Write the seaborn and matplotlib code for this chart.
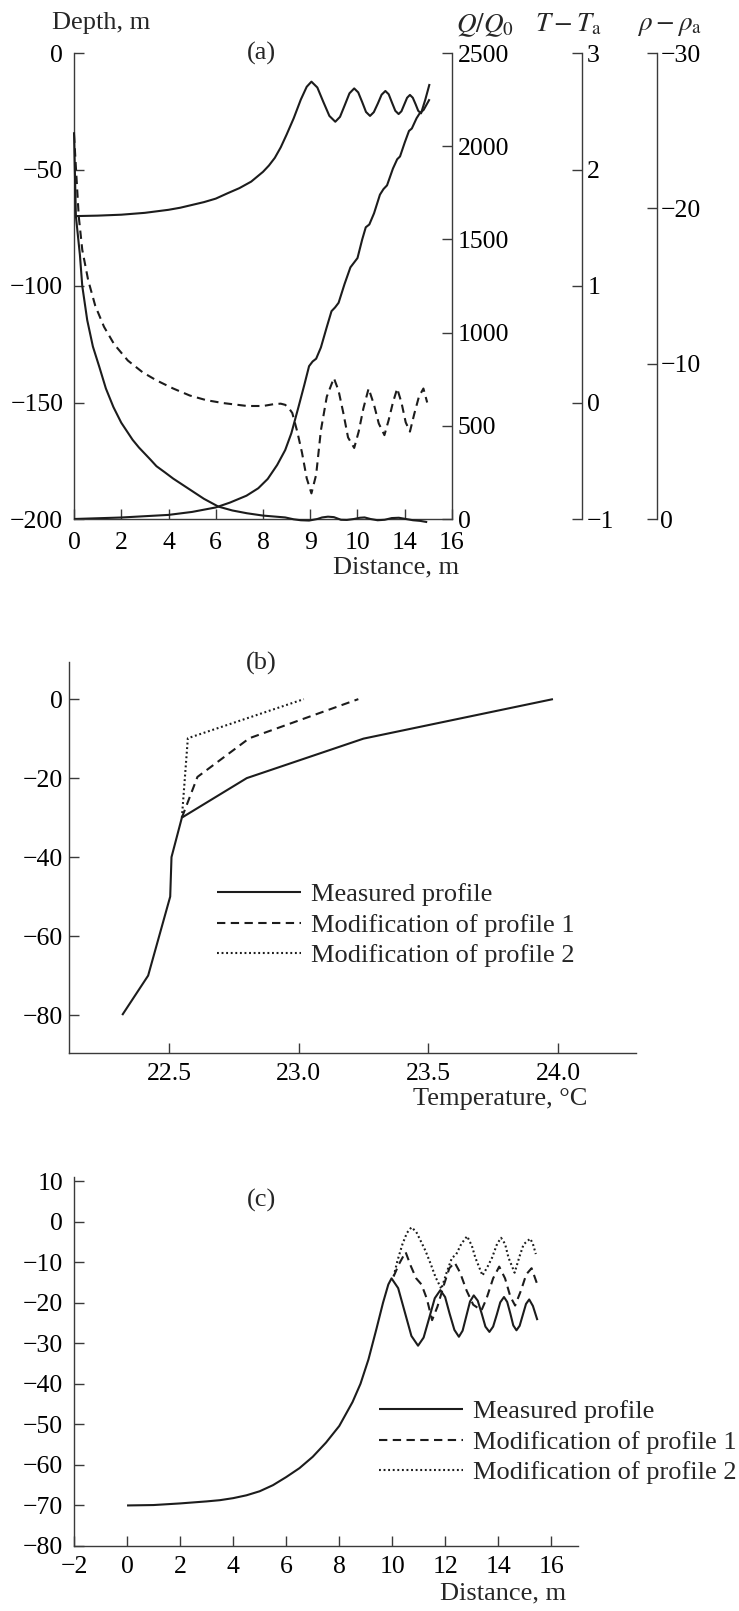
import numpy as np
import pandas as pd
import matplotlib
matplotlib.use("Agg")
import matplotlib.pyplot as plt
import seaborn as sns

# ---------------- data: panel (a) ----------------
a_depth_x = [0.05, 1.0, 2.0, 3.0, 4.0, 4.5, 5.0, 5.5, 6.0, 6.5, 7.0, 7.5, 8.0, 8.25, 8.5, 8.75, 9.0,
             9.3, 9.6, 9.85, 10.05, 10.30, 10.55, 10.81, 11.06, 11.26, 11.46, 11.66, 11.86, 12.03,
             12.20, 12.36, 12.53, 12.69, 12.86, 13.02, 13.18, 13.32, 13.46, 13.60, 13.74, 13.86, 13.98,
             14.10, 14.22, 14.34, 14.46, 14.57, 14.69, 14.87, 15.05]
a_depth_y = [-70.0, -69.8, -69.4, -68.6, -67.3, -66.4, -65.2, -64.0, -62.5, -60.2, -58.0, -55.2, -51.0,
             -48.3, -45.0, -40.5, -35.0, -28.0, -20.0, -14.5, -12.3, -14.8, -20.9, -27.0, -29.5, -27.4,
             -22.4, -17.3, -15.2, -16.9, -21.1, -25.3, -27.0, -25.4, -21.7, -17.9, -16.3, -17.7, -21.3,
             -24.8, -26.2, -25.0, -22.1, -19.2, -18.0, -19.2, -22.0, -24.8, -25.9, -20.0, -13.3]

a_q_x = [0.0, 2.0, 4.0, 5.0, 6.0, 6.6, 7.3, 7.8, 8.2, 8.6, 8.94, 9.2, 9.5, 9.75, 9.95, 10.1, 10.25,
         10.45, 10.7, 10.9, 11.05, 11.2, 11.45, 11.7, 11.85, 12.0, 12.2, 12.35, 12.5, 12.7, 12.95,
         13.1, 13.25, 13.5, 13.68, 13.8, 14.0, 14.18, 14.3, 14.5, 14.63, 14.8, 15.05]
a_q_val = [0, 8, 22, 38, 62, 88, 125, 165, 215, 290, 370, 460, 600, 720, 820, 845, 860, 920, 1030,
           1115, 1135, 1160, 1260, 1350, 1375, 1400, 1500, 1565, 1580, 1640, 1740, 1770, 1790, 1880,
           1930, 1945, 2020, 2082, 2095, 2150, 2176, 2195, 2252]

a_t_x = [0.0, 0.2, 0.35, 0.6, 0.9, 1.27, 1.7, 2.28, 2.9, 3.49, 4.2, 4.9, 5.6, 6.32, 7.33, 8.0, 8.43,
         8.75, 8.94, 9.1, 9.24, 9.45, 9.65, 9.85, 10.05, 10.25, 10.45, 10.7, 11.0, 11.2, 11.4, 11.6,
         11.86, 12.05, 12.25, 12.47, 12.7, 12.9, 13.14, 13.32, 13.5, 13.68, 13.86, 14.04, 14.22, 14.4,
         14.6, 14.79, 14.95]
a_t_val = [2.3, 1.6, 1.31, 1.05, 0.83, 0.65, 0.5, 0.36, 0.26, 0.19, 0.12, 0.06, 0.02, -0.005, -0.03,
           -0.03, -0.015, -0.01, -0.02, -0.05, -0.09, -0.25, -0.43, -0.65, -0.78, -0.62, -0.24, 0.05,
           0.21, 0.1, -0.09, -0.3, -0.39, -0.25, -0.05, 0.12, -0.02, -0.18, -0.28, -0.15, 0.0, 0.12,
           0.0, -0.17, -0.25, -0.1, 0.05, 0.12, 0.0]

a_rho_x = [0.0, 0.08, 0.25, 0.35, 0.56, 0.8, 1.07, 1.35, 1.67, 2.0, 2.48, 2.75, 3.0, 3.25, 3.49, 3.85,
           4.2, 4.55, 4.9, 5.5, 6.11, 6.7, 7.32, 8.0, 8.94, 9.3, 9.6, 9.95, 10.3, 10.5, 10.75, 11.0,
           11.3, 11.55, 11.85, 12.1, 12.3, 12.55, 12.85, 13.15, 13.45, 13.75, 14.05, 14.35, 14.65,
           14.95]
a_rho_val = [-24.9, -19.5, -17.0, -15.0, -12.8, -11.1, -9.8, -8.4, -7.2, -6.2, -5.1, -4.6, -4.2, -3.8,
             -3.4, -3.0, -2.6, -2.25, -1.9, -1.3, -0.8, -0.55, -0.37, -0.22, -0.1, 0.02, 0.08, 0.1,
             0.0, -0.1, -0.15, -0.12, 0.05, 0.06, 0.0, -0.08, -0.1, 0.0, 0.08, 0.05, -0.06, -0.08, 0.0,
             0.08, 0.12, 0.2]

a_xticks = [0, 2, 4, 6, 8, 10, 12, 14, 16]
a_xticklabels = ["0", "2", "4", "6", "8", "9", "10", "14", "16"]

# ---------------- data: panel (b) ----------------
b_meas_t = [22.32, 22.42, 22.505, 22.51, 22.55, 22.80, 23.25, 23.98]
b_meas_z = [-80, -70, -50, -40, -30, -20, -10, 0]
b_mod1_t = [22.55, 22.61, 22.81, 23.23]
b_mod1_z = [-30, -19.7, -9.9, 0]
b_mod2_t = [22.55, 22.573, 23.02]
b_mod2_z = [-30, -9.9, 0]

# ---------------- data: panel (c) ----------------
c_meas_x = [0.0, 1.0, 2.0, 3.0, 3.5, 4.0, 4.5, 5.0, 5.5, 6.0, 6.5, 7.0, 7.5, 8.0, 8.5, 8.8, 9.1, 9.4,
            9.65, 9.85, 9.97, 10.22, 10.47, 10.72, 10.97, 11.18, 11.39, 11.6, 11.81, 11.99, 12.16,
            12.34, 12.51, 12.65, 12.79, 12.93, 13.07, 13.22, 13.37, 13.51, 13.66, 13.8, 13.94, 14.07,
            14.21, 14.33, 14.45, 14.56, 14.68, 14.8, 14.92, 15.04, 15.16, 15.3, 15.47]
c_meas_y = [-70.0, -69.9, -69.5, -69.0, -68.7, -68.2, -67.5, -66.5, -65.0, -63.0, -60.8, -58.0, -54.5,
            -50.4, -44.5, -40.0, -34.0, -26.5, -20.0, -15.5, -14.0, -16.4, -22.3, -28.2, -30.6, -28.6,
            -23.8, -18.9, -16.9, -18.6, -22.7, -26.7, -28.4, -26.9, -23.3, -19.7, -18.2, -19.5, -22.7,
            -25.9, -27.2, -25.9, -22.9, -19.9, -18.6, -19.8, -22.7, -25.6, -26.8, -25.7, -23.0, -20.3,
            -19.2, -20.8, -24.3]
c_mod1_x = [10.05, 10.25, 10.5, 10.7, 10.9, 11.1, 11.3, 11.5, 11.7, 11.95, 12.15, 12.35, 12.55, 12.8,
            13.05, 13.36, 13.55, 13.8, 14.03, 14.25, 14.45, 14.63, 14.85, 15.05, 15.25, 15.45]
c_mod1_y = [-13.5, -10.5, -7.5, -11.0, -14.0, -15.5, -19.0, -24.3, -21.0, -15.5, -11.5, -10.1, -12.5,
            -17.0, -20.5, -21.9, -19.0, -14.0, -11.1, -14.0, -18.5, -20.7, -17.0, -13.0, -11.5, -15.2]
c_mod2_x = [10.05, 10.2, 10.38, 10.55, 10.72, 10.9, 11.05, 11.25, 11.45, 11.63, 11.85, 12.05, 12.25,
            12.4, 12.6, 12.82, 13.0, 13.13, 13.4, 13.6, 13.76, 13.95, 14.1, 14.25, 14.38, 14.61, 14.8,
            14.95, 15.2, 15.3, 15.41]
c_mod2_y = [-13.5, -9.5, -5.6, -2.8, -1.4, -2.5, -4.5, -7.2, -10.5, -13.7, -16.6, -12.5, -8.9, -8.2,
            -5.5, -3.6, -6.0, -8.9, -13.3, -11.0, -8.9, -5.5, -4.0, -5.5, -8.9, -12.6, -8.5, -5.6, -4.2,
            -5.5, -8.0]

legend_labels = ["Measured profile", "Modification of profile 1", "Modification of profile 2"]

# ---------------- style ----------------
sns.set_style("ticks")
plt.rcParams["font.family"] = ["Liberation Serif", "DejaVu Serif"]
plt.rcParams["mathtext.fontset"] = "stix"
plt.rcParams["axes.unicode_minus"] = True

FS_TICK = 18.5
FS = 19
LC = "#1c1c1c"
SC = "#3a3a3a"
LW = 1.5
DASH = (0, (4.0, 2.6))
DOT = (0, (0.9, 1.3))

W, H = 739, 1611
fig = plt.figure(figsize=(W / 100, H / 100), dpi=100)


def rect(left, top, right, bottom):
    return [left / W, 1 - bottom / H, (right - left) / W, (bottom - top) / H]


def style_axis(ax, pad_y=7.7, pad_x=7.2):
    ax.tick_params(axis="both", direction="in", length=7, width=1.0, colors=SC,
                   labelcolor="black", labelsize=FS_TICK)
    ax.tick_params(axis="y", pad=pad_y)
    ax.tick_params(axis="x", pad=pad_x)
    for s in ax.spines.values():
        s.set_color(SC)
        s.set_linewidth(1.0)


def line(ax, x, y, ls="-", label=None, clip=True):
    df = pd.DataFrame({"x": x, "y": y})
    n0 = len(ax.lines)
    sns.lineplot(data=df, x="x", y="y", ax=ax, sort=False, estimator=None, color=LC,
                 linewidth=LW, linestyle=ls, label=label, legend=False)
    for ln in ax.lines[n0:]:
        ln.set_clip_on(clip)
        ln.set_solid_capstyle("butt")
        ln.set_solid_joinstyle("round")


def legend(ax, anchor):
    ax.legend(loc="center left", bbox_to_anchor=anchor, frameon=False, fontsize=FS,
              handlelength=3.2, handletextpad=0.36, labelspacing=0.27,
              borderpad=0, borderaxespad=0)


# ---------------- panel (a) ----------------
axA = fig.add_axes(rect(74, 53, 452, 519))
axQ = axA.twinx()
axT = axA.twinx()
axR = axA.twinx()

line(axA, a_depth_x, a_depth_y)
line(axQ, a_q_x, a_q_val)
line(axT, a_t_x, a_t_val, ls=DASH)
line(axR, a_rho_x, a_rho_val, clip=False)

axA.set_xlim(0, 16)
axA.set_ylim(-200, 0)
axA.set_xticks(a_xticks)
axA.set_xticklabels(a_xticklabels)
axA.set_yticks([0, -50, -100, -150, -200])
axQ.set_ylim(0, 2500)
axQ.set_yticks([0, 500, 1000, 1500, 2000, 2500])
axT.set_ylim(-1, 3)
axT.set_yticks([-1, 0, 1, 2, 3])
axR.set_ylim(0, -30)
axR.set_yticks([0, -10, -20, -30])

for ax in (axA, axQ, axT, axR):
    style_axis(ax, pad_x=9.2)
    ax.set_xlabel("")
    ax.set_ylabel("")
    ax.patch.set_visible(False)
axA.spines["top"].set_visible(False)
axA.spines["right"].set_visible(False)
for ax in (axQ, axT, axR):
    for s in ("top", "bottom", "left"):
        ax.spines[s].set_visible(False)
axQ.tick_params(axis="y", pad=4)
axT.tick_params(axis="y", pad=4)
axR.tick_params(axis="y", pad=2.5)
axT.spines["right"].set_position(("axes", 1.343))
axR.spines["right"].set_position(("axes", 1.542))
axA.set_xlabel("Distance, m", fontsize=FS, loc="right", labelpad=2)
axA.xaxis.label.set_position((1.02, 0))

fig.text(52 / W, 1 - 23 / H, "Depth, m", fontsize=FS, ha="left", va="center")
fig.text(456 / W, 1 - 25 / H, r"$Q/Q_0$", fontsize=FS + 0.5, ha="left", va="center")
fig.text(535 / W, 1 - 25 / H, r"$T - T_\mathrm{a}$", fontsize=FS + 0.5, ha="left", va="center")
fig.text(637 / W, 1 - 25 / H, r"$\rho - \rho_\mathrm{a}$", fontsize=FS + 0.5, ha="left", va="center")
fig.text(261 / W, 1 - 53 / H, "(a)", fontsize=FS, ha="center", va="center")

# ---------------- panel (b) ----------------
axB = fig.add_axes(rect(69, 662, 636, 1053))
line(axB, b_meas_t, b_meas_z, label=legend_labels[0])
line(axB, b_mod1_t, b_mod1_z, ls=DASH, label=legend_labels[1])
line(axB, b_mod2_t, b_mod2_z, ls=DOT, label=legend_labels[2])
axB.set_xlim(22.115, 24.3)
axB.set_ylim(-89.6, 9.4)
axB.set_xticks([22.5, 23.0, 23.5, 24.0])
axB.set_xticklabels(["22.5", "23.0", "23.5", "24.0"])
axB.set_yticks([0, -20, -40, -60, -80])
style_axis(axB, pad_y=4.5)
axB.spines["top"].set_visible(False)
axB.spines["right"].set_visible(False)
axB.set_ylabel("")
axB.set_xlabel("Temperature, °C", fontsize=FS, loc="right", labelpad=2)
axB.xaxis.label.set_position((0.914, 0))
fig.text(261 / W, 1 - 663 / H, "(b)", fontsize=FS, ha="center", va="center")
legend(axB, ((217 - 69) / 567, (1053 - 925) / 391))

# ---------------- panel (c) ----------------
axC = fig.add_axes(rect(74, 1177, 578, 1546))
line(axC, c_meas_x, c_meas_y, label=legend_labels[0])
line(axC, c_mod1_x, c_mod1_y, ls=DASH, label=legend_labels[1])
line(axC, c_mod2_x, c_mod2_y, ls=DOT, label=legend_labels[2])
axC.set_xlim(-2, 17)
axC.set_ylim(-80, 11)
axC.set_xticks(list(range(-2, 17, 2)))
axC.set_yticks(list(range(10, -81, -10)))
style_axis(axC)
axC.spines["top"].set_visible(False)
axC.spines["right"].set_visible(False)
axC.set_ylabel("")
axC.set_xlabel("Distance, m", fontsize=FS, loc="right", labelpad=3)
axC.xaxis.label.set_position((0.976, 0))
fig.text(261 / W, 1 - 1200 / H, "(c)", fontsize=FS, ha="center", va="center")
legend(axC, ((379 - 74) / 504, (1546 - 1442) / 369))

fig.savefig("out.png", dpi=100)
